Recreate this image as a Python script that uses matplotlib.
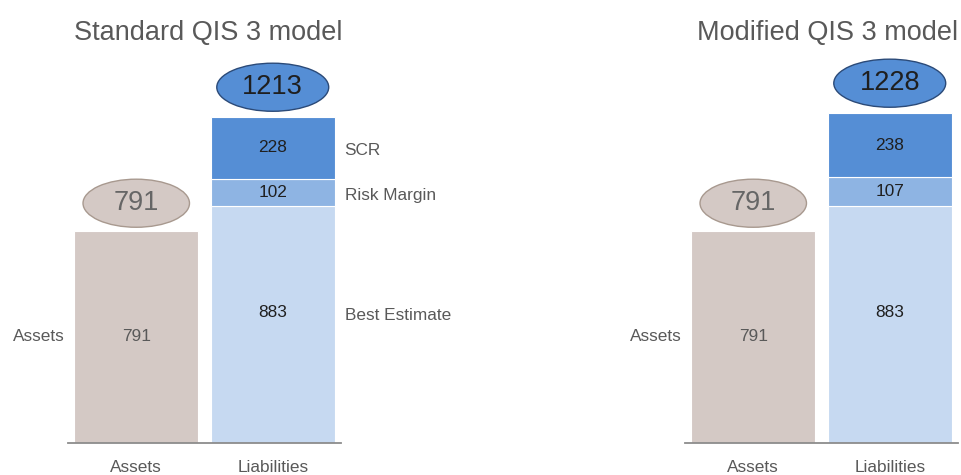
import matplotlib

matplotlib.use("Agg")
import matplotlib.pyplot as plt
from matplotlib.patches import Ellipse

plt.rcParams["font.family"] = ["Liberation Sans", "DejaVu Sans"]

# ---------- data ----------
CATEGORIES = ["Assets", "Liabilities"]
PANEL_TITLES = ["Standard QIS 3 model", "Modified QIS 3 model"]
ASSETS = [791, 791]
BEST_ESTIMATE = [883, 883]
RISK_MARGIN = [102, 107]
SCR = [228, 238]
SEGMENT_NAMES = ["Best Estimate", "Risk Margin", "SCR"]

# ---------- style ----------
ASSET_COLOR = "#D4C9C5"
BE_COLOR = "#C6D9F1"
RM_COLOR = "#8EB4E3"
SCR_COLOR = "#558ED5"
LABEL_GREY = "#595959"
NUM_DARK = "#1F1F1F"
AXIS_GREY = "#8C8C8C"

W, H = 961, 475
BAR_W = 0.905
YMAX = 1540
PX_PER_UNIT = 0.2685


def draw_panel(ax, i, show_segment_labels):
    ax.set_xlim(-0.5, 1.5)
    ax.set_ylim(0, YMAX)
    for side in ("top", "left", "right"):
        ax.spines[side].set_visible(False)
    ax.spines["bottom"].set_color(AXIS_GREY)
    ax.spines["bottom"].set_linewidth(1.3)
    ax.set_yticks([])
    ax.set_xticks([0, 1])
    ax.set_xticklabels(CATEGORIES, color=LABEL_GREY, fontsize=12.4)
    ax.tick_params(axis="x", length=0, pad=12)

    # assets bar
    ax.bar(0, ASSETS[i], width=BAR_W, color=ASSET_COLOR, edgecolor="white", linewidth=0.8)
    ax.text(0, ASSETS[i] / 2, str(ASSETS[i]), ha="center", va="center",
            color=LABEL_GREY, fontsize=12.4)

    # liabilities stacked bar
    segs = [BEST_ESTIMATE[i], RISK_MARGIN[i], SCR[i]]
    colors = [BE_COLOR, RM_COLOR, SCR_COLOR]
    label_frac = [0.55, 0.5, 0.5]
    bottom = 0
    for name, v, c, frac in zip(SEGMENT_NAMES, segs, colors, label_frac):
        ax.bar(1, v, bottom=bottom, width=BAR_W, color=c, edgecolor="white", linewidth=0.8)
        ym = bottom + v * frac
        ax.text(1, ym, str(v), ha="center", va="center", color=NUM_DARK, fontsize=12.4)
        if show_segment_labels:
            ax.annotate(name, xy=(1 + BAR_W / 2, ym), xytext=(10, -3),
                        textcoords="offset pixels", ha="left", va="center",
                        color=LABEL_GREY, fontsize=12.4, annotation_clip=False)
        bottom += v
    total = bottom

    # "Assets" label left of the asset bar
    ax.annotate("Assets", xy=(-BAR_W / 2, ASSETS[i] / 2), xytext=(-10, 0),
                textcoords="offset pixels", ha="right", va="center",
                color=LABEL_GREY, fontsize=12.4, annotation_clip=False)

    # total bubbles
    e1 = Ellipse((1, total + 112), 0.82, 179, facecolor=SCR_COLOR,
                 edgecolor="#2B4A78", linewidth=1.0, clip_on=False)
    ax.add_patch(e1)
    ax.text(1, total + 112, str(total), ha="center", va="center",
            color=NUM_DARK, fontsize=19.5)
    e2 = Ellipse((0, ASSETS[i] + 102), 0.78, 179, facecolor=ASSET_COLOR,
                 edgecolor="#A8998F", linewidth=1.0, clip_on=False)
    ax.add_patch(e2)
    ax.text(0, ASSETS[i] + 102, str(ASSETS[i]), ha="center", va="center",
            color="#666666", fontsize=19.5)


fig = plt.figure(figsize=(W / 100, H / 100), dpi=100)
ax_h = YMAX * PX_PER_UNIT / H
ax_left = fig.add_axes([68 / W, 32 / H, 273 / W, ax_h])
ax_right = fig.add_axes([685 / W, 32 / H, 273 / W, ax_h])

draw_panel(ax_left, 0, True)
draw_panel(ax_right, 1, False)

fig.text(208 / W, 1 - 33 / H, PANEL_TITLES[0], ha="center", va="center",
         color=LABEL_GREY, fontsize=19.5)
fig.text(828 / W, 1 - 33 / H, PANEL_TITLES[1], ha="center", va="center",
         color=LABEL_GREY, fontsize=19.5)

fig.savefig("out.png", dpi=100, facecolor="white")
